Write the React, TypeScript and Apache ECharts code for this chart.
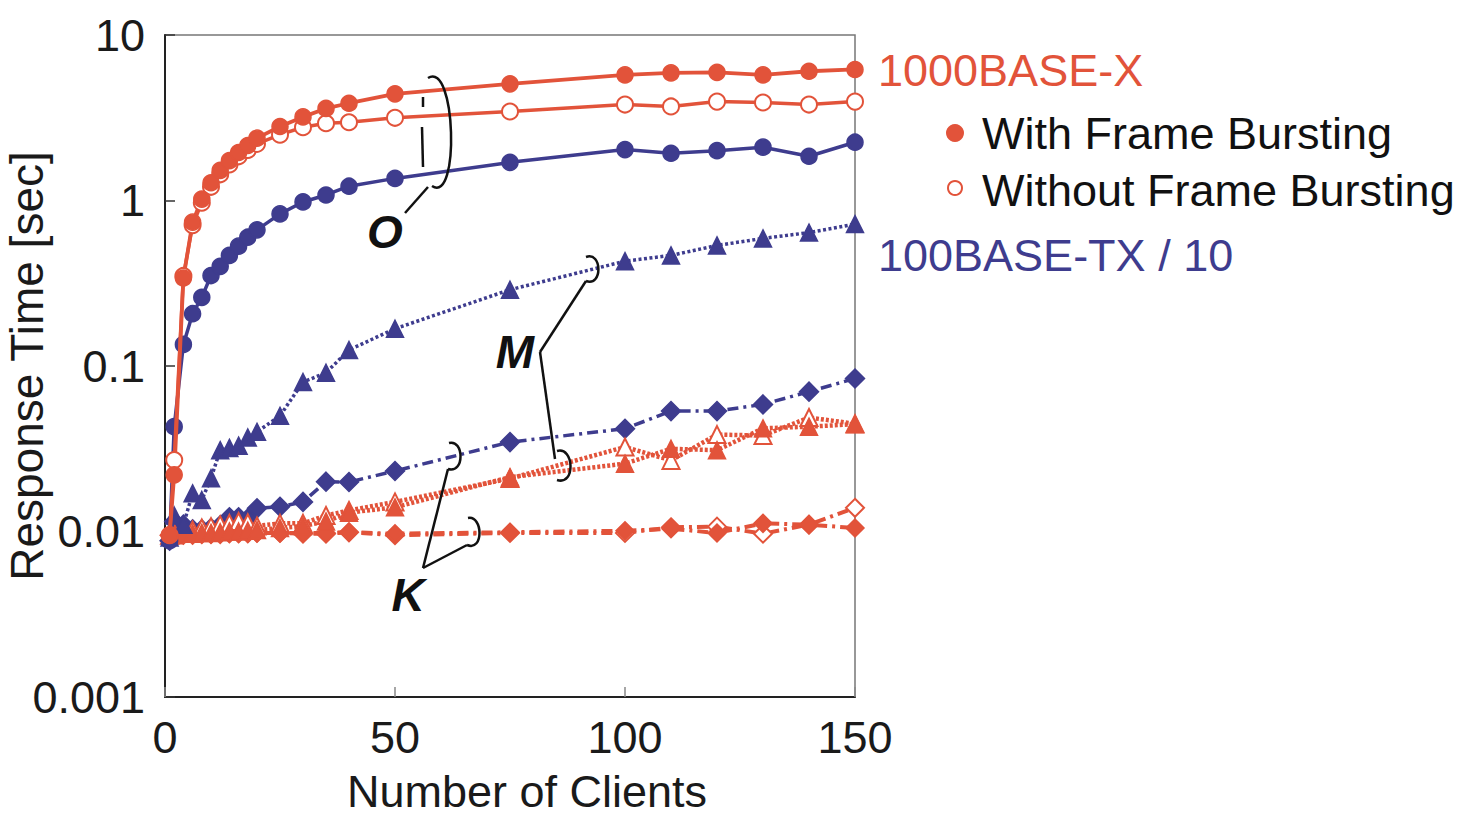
import React, { useEffect, useRef } from "react";
import * as echarts from "echarts";

const clients = [1, 2, 4, 6, 8, 10, 12, 14, 16, 18, 20, 25, 30, 35, 40, 50, 75, 100, 110, 120, 130, 140, 150];

// 1000BASE-X, circles (O)
const gbWithO = [0.0095, 0.022, 0.34, 0.74, 1.02, 1.28, 1.52, 1.74, 1.95, 2.15, 2.38, 2.8, 3.2, 3.6, 3.87, 4.41, 5.07, 5.74, 5.9, 5.95, 5.74, 6.04, 6.19];
const gbWithoutO = [0.0095, 0.027, 0.35, 0.71, 0.97, 1.21, 1.44, 1.65, 1.85, 2.02, 2.2, 2.5, 2.77, 2.93, 2.97, 3.16, 3.45, 3.8, 3.7, 3.96, 3.91, 3.8, 3.96];
// 100BASE-TX / 10, circles (O)
const feO = [0.0088, 0.043, 0.135, 0.207, 0.26, 0.352, 0.4, 0.466, 0.53, 0.6, 0.665, 0.83, 0.98, 1.08, 1.22, 1.36, 1.7, 2.03, 1.93, 2.0, 2.1, 1.85, 2.25];
// 100BASE-TX / 10, triangles (M)
const feM = [0.0092, 0.0125, 0.011, 0.017, 0.0155, 0.021, 0.031, 0.032, 0.033, 0.037, 0.04, 0.05, 0.08, 0.091, 0.125, 0.168, 0.289, 0.43, 0.466, 0.535, 0.59, 0.64, 0.72];
// 1000BASE-X, triangles (M)
const gbWithM = [0.0095, 0.0095, 0.0097, 0.0097, 0.0098, 0.0098, 0.0099, 0.01, 0.01, 0.0101, 0.0102, 0.0105, 0.0108, 0.0115, 0.013, 0.014, 0.0213, 0.0257, 0.0316, 0.031, 0.042, 0.043, 0.0445];
const gbWithoutM = [0.0095, 0.0098, 0.01, 0.0102, 0.0105, 0.0107, 0.011, 0.0112, 0.0115, 0.0113, 0.0108, 0.0112, 0.0112, 0.0125, 0.0134, 0.0151, 0.0209, 0.0324, 0.0269, 0.0385, 0.038, 0.0488, 0.0448];
// 100BASE-TX / 10, diamonds (K)
const feK = [0.0088, 0.0115, 0.011, 0.0103, 0.0103, 0.0105, 0.0109, 0.0122, 0.0122, 0.012, 0.0138, 0.0141, 0.0151, 0.02, 0.0199, 0.0232, 0.0347, 0.0418, 0.0534, 0.0534, 0.0586, 0.07, 0.084];
// 1000BASE-X, diamonds (K)
const gbWithK = [0.0095, 0.0095, 0.0095, 0.0095, 0.0096, 0.0096, 0.0096, 0.0097, 0.0097, 0.0097, 0.0098, 0.0098, 0.0098, 0.0098, 0.0099, 0.0097, 0.0099, 0.0101, 0.0104, 0.0098, 0.0112, 0.011, 0.0105];
const gbWithoutK = [0.0095, 0.0096, 0.0097, 0.0097, 0.0097, 0.0097, 0.0098, 0.0098, 0.0098, 0.0098, 0.0098, 0.0098, 0.0097, 0.0097, 0.0099, 0.0095, 0.0098, 0.0098, 0.0106, 0.0107, 0.0097, 0.011, 0.0139];

const yTickLabels = ["0.001", "0.01", "0.1", "1", "10"];
const xTickLabels = ["0", "50", "100", "150"];

const RED = "#E2533A";
const BLUE = "#3E3C8E";
const FONT = "'Liberation Sans', Arial, Helvetica, sans-serif";

const pairs = (vals: number[]) => clients.map((x, i) => [x, vals[i]]);

function mkSeries(name: string, vals: number[], color: string, symbol: string, lineType: any, width: number, size: number, z: number) {
  return {
    name,
    type: "line",
    data: pairs(vals),
    symbol,
    symbolSize: size,
    z,
    lineStyle: { color, width, type: lineType },
    itemStyle: { color, borderColor: color, borderWidth: 1.5 },
    emphasis: { disabled: true },
  };
}

function bez(x1: number, y1: number, cpx1: number, cpy1: number, cpx2: number, cpy2: number, x2: number, y2: number) {
  return {
    type: "bezierCurve",
    shape: { x1, y1, cpx1, cpy1, cpx2, cpy2, x2, y2 },
    style: { stroke: "#111", lineWidth: 2.5, fill: null },
    z: 100,
  };
}
function ln(x1: number, y1: number, x2: number, y2: number) {
  return {
    type: "line",
    shape: { x1, y1, x2, y2 },
    style: { stroke: "#111", lineWidth: 2.5 },
    z: 100,
  };
}
function txt(x: number, y: number, text: string, fill: string, font: string, align = "left") {
  return {
    type: "text",
    x,
    y,
    z: 100,
    style: { text, fill, font, align, verticalAlign: "middle" },
  };
}

export default function App() {
  const ref = useRef<HTMLDivElement>(null);
  useEffect(() => {
    const chart = echarts.init(ref.current!, null, { renderer: "svg" });
    const annFont = `italic bold 46px ${FONT}`;
    const legFont = `45px ${FONT}`;
    chart.setOption({
      animation: false,
      backgroundColor: "#fff",
      grid: {
        left: 165,
        top: 35,
        right: 1469 - 855,
        bottom: 817 - 697,
        show: true,
        borderColor: "#777",
        borderWidth: 1.5,
        backgroundColor: "transparent",
        containLabel: false,
        outerBoundsMode: "none",
      },
      xAxis: {
        type: "value",
        min: 0,
        max: 150,
        interval: 50,
        name: "Number of Clients",
        nameLocation: "middle",
        nameGap: 74,
        nameMoveOverlap: false,
        nameTextStyle: { fontSize: 45, lineHeight: 40, color: "#1a1a1a", fontFamily: FONT, padding: [0, 0, 0, 34] },
        axisLine: { show: true, lineStyle: { color: "#222", width: 2 } },
        axisTick: { show: true, inside: true, length: 10, lineStyle: { color: "#888", width: 1.5 } },
        axisLabel: {
          fontSize: 45,
          color: "#1a1a1a",
          fontFamily: FONT,
          margin: 18,
          formatter: (v: number) => xTickLabels[Math.round(v / 50)] ?? String(v),
        },
        splitLine: { show: false },
      },
      yAxis: {
        type: "log",
        logBase: 10,
        min: 0.001,
        max: 10,
        name: "Response Time [sec]",
        nameLocation: "middle",
        nameGap: 107,
        nameMoveOverlap: false,
        nameRotate: 90,
        nameTextStyle: { fontSize: 46, lineHeight: 46, color: "#1a1a1a", fontFamily: FONT, padding: [0, 0, 8, 0] },
        axisLine: { show: true, lineStyle: { color: "#222", width: 2 } },
        axisTick: { show: true, inside: true, length: 10, lineStyle: { color: "#333", width: 1.5 } },
        axisLabel: {
          fontSize: 45,
          color: "#1a1a1a",
          fontFamily: FONT,
          margin: 20,
          formatter: (v: number) => yTickLabels[Math.round(Math.log10(v)) + 3] ?? String(v),
        },
        splitLine: { show: false },
        minorTick: { show: false },
      },
      series: [
        mkSeries("1000BASE-X K without", gbWithoutK, RED, "emptyDiamond", [11, 5, 3, 5], 4, 18, 2),
        mkSeries("1000BASE-X K with", gbWithK, RED, "diamond", [11, 5, 3, 5], 4, 18, 2),
        mkSeries("100BASE-TX K", feK, BLUE, "diamond", [11, 5, 3, 5], 3.5, 19, 3),
        mkSeries("1000BASE-X M without", gbWithoutM, RED, "emptyTriangle", [3, 2], 4.5, 17, 4),
        mkSeries("1000BASE-X M with", gbWithM, RED, "triangle", [3, 2], 4.5, 17, 4),
        mkSeries("100BASE-TX M", feM, BLUE, "triangle", [3, 2.5], 3.5, 17, 5),
        mkSeries("100BASE-TX O", feO, BLUE, "circle", "solid", 3.5, 16, 6),
        mkSeries("1000BASE-X O without", gbWithoutO, RED, "emptyCircle", "solid", 3.5, 16, 7),
        mkSeries("1000BASE-X O with", gbWithO, RED, "circle", "solid", 3.8, 16, 7),
      ],
      graphic: [
        // O annotation
        txt(385, 232, "O", "#111", annFont, "center"),
        bez(428, 78, 456, 60, 460, 205, 432, 186),
        ln(423, 97, 423, 107),
        ln(422, 127, 423, 167),
        ln(428, 187, 405, 213),
        // M annotation
        txt(515, 352, "M", "#111", annFont, "center"),
        ln(540, 352, 586, 281),
        bez(586, 257, 602, 251, 603, 287, 586, 281),
        ln(540, 352, 555, 459),
        bez(557, 451, 574, 446, 576, 486, 557, 480),
        // K annotation
        txt(408, 595, "K", "#111", annFont, "center"),
        ln(423, 568, 448, 469),
        bez(449, 443, 464, 439, 465, 474, 448, 469),
        ln(423, 568, 467, 545),
        bez(468, 518, 483, 515, 484, 552, 467, 545),
        // legend
        txt(878, 70, "1000BASE-X", RED, legFont),
        { type: "circle", shape: { cx: 955, cy: 133, r: 9 }, style: { fill: RED }, z: 100 },
        txt(982, 133, "With Frame Bursting", "#111", legFont),
        { type: "circle", shape: { cx: 955, cy: 188, r: 7 }, style: { fill: "#fff", stroke: RED, lineWidth: 2 }, z: 100 },
        txt(982, 190, "Without Frame Bursting", "#111", legFont),
        txt(878, 255, "100BASE-TX / 10", BLUE, legFont),
      ],
    });
    return () => chart.dispose();
  }, []);
  return (
    <div
      ref={ref}
      style={{ position: "fixed", left: 0, top: 0, width: 1469, height: 817, background: "#fff" }}
    />
  );
}
